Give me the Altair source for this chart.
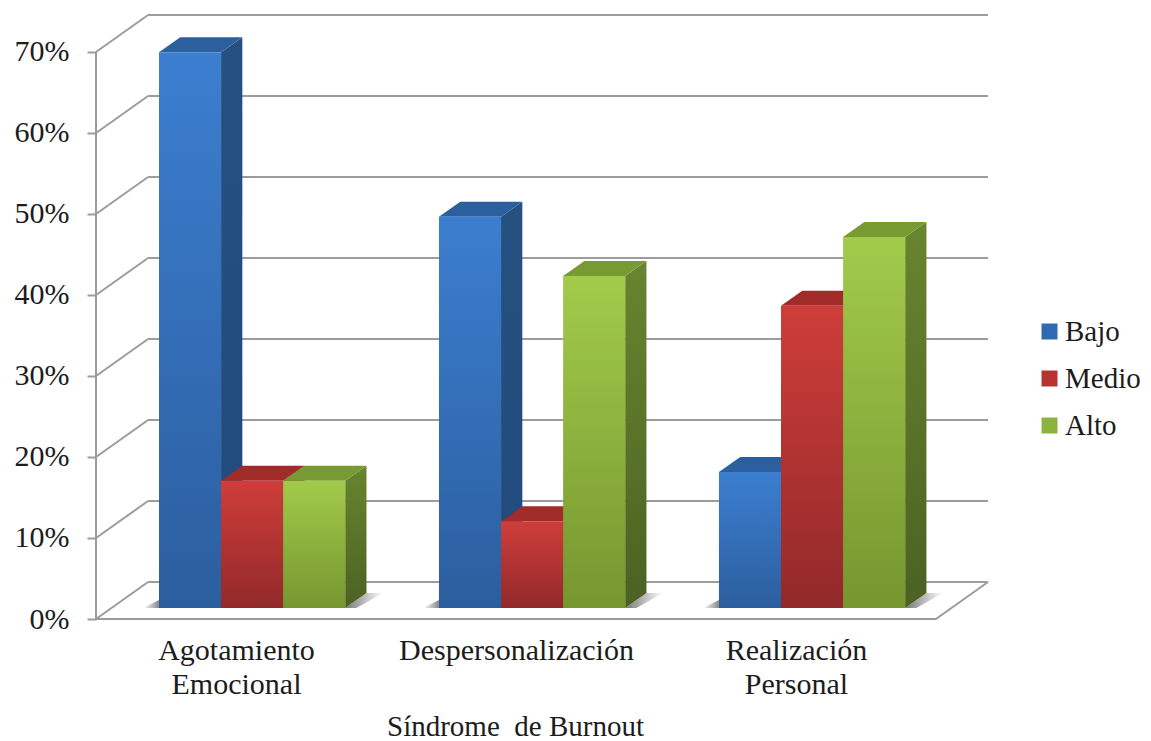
import altair as alt
import pandas as pd

categories = [["Agotamiento", "Emocional"], ["Despersonalización"], ["Realización", "Personal"]]
series_names = ["Bajo", "Medio", "Alto"]
bajo = [68.6, 48.3, 16.8]
medio = [15.7, 10.7, 37.3]
alto = [15.7, 41.0, 45.8]
y_ticks = [0, 10, 20, 30, 40, 50, 60, 70]

# geometry in data units (x: one unit per category, y: percentage points)
WALL_DX, WALL_DY = 0.186, 4.57
YMAX = 74.69
XMAX = 3 + WALL_DX
BAR_W = 0.2217
START = 0.225
BASE = 1.36
DEP_X, DEP_Y = 0.076, 1.85
LINE = "#9c9c9c"
FONT = "Liberation Serif"
TXT = "#1c1c1c"

xs = alt.Scale(domain=[0, XMAX], nice=False, zero=False)
ys = alt.Scale(domain=[0, YMAX], nice=False, zero=False)


def grad(c1, c2, horizontal=False):
    return alt.Gradient(
        gradient="linear",
        stops=[alt.GradientStop(color=c1, offset=0), alt.GradientStop(color=c2, offset=1)],
        x1=0, y1=0, x2=1 if horizontal else 0, y2=0 if horizontal else 1,
    )


X = lambda f="x": alt.X(f"{f}:Q", scale=xs, axis=None)
Y = lambda f="y": alt.Y(f"{f}:Q", scale=ys, axis=None)

# grid, walls and floor
lines = []
for v in y_ticks:
    lines += [dict(id=f"d{v}", x=0, y=v), dict(id=f"d{v}", x=WALL_DX, y=v + WALL_DY)]
    lines += [dict(id=f"h{v}", x=WALL_DX, y=v + WALL_DY), dict(id=f"h{v}", x=XMAX, y=v + WALL_DY)]
lines += [dict(id="ax", x=0, y=0), dict(id="ax", x=0, y=70)]
lines += [dict(id="fl", x=0, y=0), dict(id="fl", x=3, y=0), dict(id="fl", x=XMAX, y=WALL_DY)]
grid = alt.Chart(pd.DataFrame(lines)).mark_line(color=LINE, strokeWidth=2).encode(
    x=X(), y=Y(), detail="id:N"
)

# legend + axes carrier, hidden behind the first group of bars
label_expr = "datum.value < 1 ? {} : datum.value < 2 ? {} : {}".format(*[repr(c) for c in categories])
carrier = alt.Chart(pd.DataFrame({"s": series_names, "x": [0.5] * 3, "y": [8] * 3})).mark_point(
    filled=True, size=1, shape="square", opacity=1
).encode(
    x=alt.X("x:Q", scale=xs, axis=alt.Axis(
        values=[0.5, 1.5, 2.5], labelExpr=label_expr, domain=False, ticks=False, grid=False,
        labelFont=FONT, labelFontSize=30, labelColor=TXT, labelPadding=16, labelLineHeight=34,
        labelFlush=False, labelOverlap=False, labelLimit=500,
        title="Síndrome\u00a0 de Burnout", titleFont=FONT, titleFontSize=29, titleFontWeight="normal",
        titleColor=TXT, titleX=419, titleY=116, titleAnchor="middle", titleAlign="center",
        titleBaseline="alphabetic", titleLimit=600,
    )),
    y=alt.Y("y:Q", scale=ys, axis=alt.Axis(
        values=y_ticks, labelExpr="datum.value + '%'", domain=False, grid=False,
        tickSize=9, tickWidth=2, tickColor=LINE, labelFont=FONT, labelFontSize=30,
        labelColor=TXT, labelPadding=18, title=None, labelOverlap=False, labelFlush=False,
    )),
    color=alt.Color("s:N", scale=alt.Scale(domain=series_names, range=["#3069B1", "#B8332F", "#8DB33F"]),
                    legend=alt.Legend(
                        orient="none", legendX=939, legendY=303, title=None, symbolType="square",
                        symbolSize=256, symbolStrokeWidth=0, symbolOpacity=1, labelFont=FONT, labelFontSize=29,
                        labelColor=TXT, labelOffset=1, rowPadding=17, padding=0, labelLimit=200,
                    )),
)

# soft shadows on the floor
left_sh, right_sh = [], []
for i in range(3):
    l = i + START
    r = l + 3 * BAR_W
    b = BASE
    left_sh += [dict(id=i, y=b, x=l - 0.057, x2=l), dict(id=i, y=b + 1.0, x=l, x2=l)]
    right_sh += [dict(id=i, y=b, x=r, x2=r + 0.04), dict(id=i, y=b + DEP_Y, x=r + DEP_X, x2=r + DEP_X + 0.06)]
shadow_l = alt.Chart(pd.DataFrame(left_sh)).mark_area(
    orient="horizontal", color=grad("#ffffff", "#888888", True)
).encode(x=X(), x2="x2:Q", y=Y(), detail="id:N")
shadow_r = alt.Chart(pd.DataFrame(right_sh)).mark_area(
    orient="horizontal", color=grad("#777777", "#ffffff", True)
).encode(x=X(), x2="x2:Q", y=Y(), detail="id:N")

palette = [
    dict(front=("#3C7ED0", "#2B5E9E"), side=("#25507F", "#1F4A7C"), top="#2B5F9E"),
    dict(front=("#CE3D39", "#92292A"), side=("#7E2422", "#6E1F1E"), top="#A12B28"),
    dict(front=("#A2CB4B", "#76962F"), side=("#68852F", "#4C6122"), top="#789A33"),
]

bars = []
for s, vals in enumerate([bajo, medio, alto]):
    front, side, top = [], [], []
    for i, v in enumerate(vals):
        l = i + START + s * BAR_W
        r = l + BAR_W
        t = BASE + v
        front.append(dict(x=l, x2=r, y=BASE, y2=t))
        side += [dict(id=i, x=r, y=t, y2=BASE), dict(id=i, x=r + DEP_X, y=t + DEP_Y, y2=BASE + DEP_Y)]
        top += [dict(id=i, y=t, x=l, x2=r), dict(id=i, y=t + DEP_Y, x=l + DEP_X, x2=r + DEP_X)]
    p = palette[s]
    bars.append(alt.Chart(pd.DataFrame(side)).mark_area(color=grad(*p["side"])).encode(
        x=X(), y=Y(), y2="y2:Q", detail="id:N"))
    bars.append(alt.Chart(pd.DataFrame(top)).mark_area(orient="horizontal", color=p["top"]).encode(
        x=X(), x2="x2:Q", y=Y(), detail="id:N"))
    bars.append(alt.Chart(pd.DataFrame(front)).mark_rect(color=grad(*p["front"])).encode(
        x=X(), x2="x2:Q", y=Y(), y2="y2:Q"))

chart = alt.layer(carrier, grid, shadow_l, shadow_r, *bars).resolve_axis(
    x="independent", y="independent"
).properties(
    width=892, height=605, autosize=alt.AutoSizeParams(type="none"),
    padding={"left": 88, "top": 6, "right": 155, "bottom": 122},
    background="white",
).configure_view(stroke=None)

chart.save("out.html", embed_options={"renderer": "svg", "actions": False})
